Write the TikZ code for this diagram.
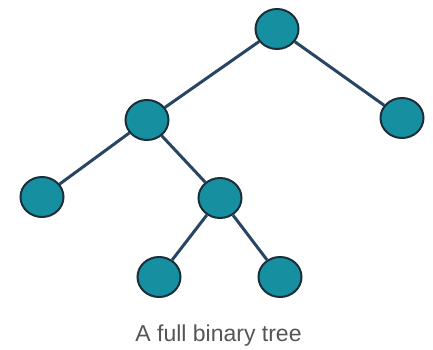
\documentclass[tikz,border=0pt]{standalone}
\usepackage{fontspec}
\setmainfont{Liberation Sans}
\usetikzlibrary{shapes.geometric}

\definecolor{nodefill}{RGB}{22,143,160}
\definecolor{nodeline}{RGB}{28,46,58}
\definecolor{branch}{RGB}{40,70,100}
\definecolor{captiongray}{RGB}{85,85,85}

\begin{document}
\begin{tikzpicture}[x=1pt,y=-1pt,
    vertex/.style={ellipse, draw=nodeline, fill=nodefill, line width=2pt,
                   minimum width=43pt, minimum height=40pt, inner sep=0pt}]

      \useasboundingbox (0,0) rectangle (433,350);

      \node[vertex] (root) at (277,29) {};
      \node[vertex] (L) at (147,120) {};
      \node[vertex] (R) at (402,118) {};
      \node[vertex] (LL) at (42,197) {};
      \node[vertex] (LR) at (220,198) {};
      \node[vertex] (LRL) at (159,277) {};
      \node[vertex] (LRR) at (280,277) {};

      \node[anchor=base, text=captiongray, font=\fontsize{23}{27}\selectfont]
            (caption) at (218.5,341) {A full binary tree};

      \path[draw=branch, line width=3pt]
      % root level
      (root) edge (L)
      (root) edge (R)
      % left subtree
      (L) edge (LL)
      (L) edge (LR)
      (LR) edge (LRL)
      (LR) edge (LRR);

\end{tikzpicture}
\end{document}
